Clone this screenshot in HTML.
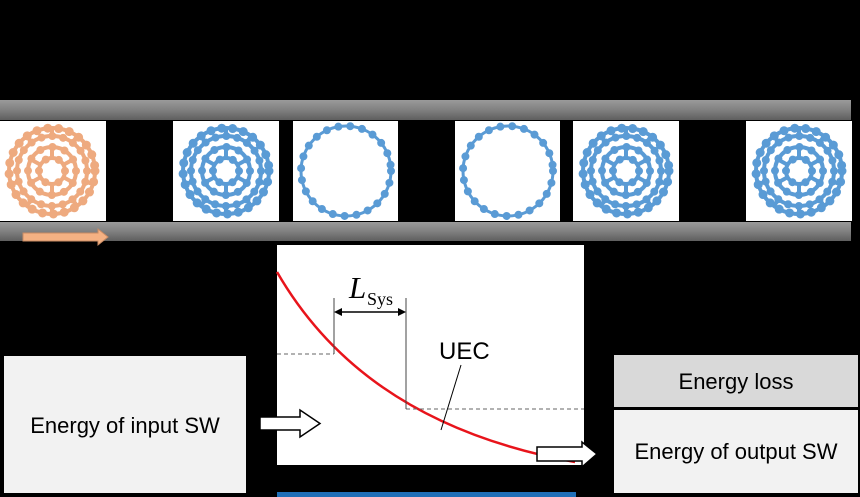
<!DOCTYPE html>
<html><head><meta charset="utf-8"><style>
body{margin:0;background:#000;}
svg{display:block}
</style></head><body>
<svg width="860" height="497" viewBox="0 0 860 497" xmlns="http://www.w3.org/2000/svg" font-family="Liberation Sans, sans-serif">
<defs>
<linearGradient id="bar" x1="0" y1="0" x2="0" y2="1">
<stop offset="0" stop-color="#9a9a9a"/><stop offset="0.5" stop-color="#808080"/><stop offset="1" stop-color="#5e5e5e"/></linearGradient>
<g id="ful">
<circle cx="0" cy="0" r="43" fill="none" stroke-width="4"/>
<circle cx="0" cy="0" r="43" fill="none" stroke-width="9" stroke-linecap="round" stroke-dasharray="0 11"/>
<circle cx="0" cy="0" r="35" fill="none" stroke-width="4"/>
<circle cx="0" cy="0" r="35" fill="none" stroke-width="8" stroke-linecap="round" stroke-dasharray="0 11"/>
<circle cx="0" cy="0" r="24" fill="none" stroke-width="4"/>
<circle cx="0" cy="0" r="24" fill="none" stroke-width="8" stroke-linecap="round" stroke-dasharray="0 12.6"/>
<circle cx="0" cy="0" r="13" fill="none" stroke-width="4"/>
<circle cx="0" cy="0" r="13" fill="none" stroke-width="8" stroke-linecap="round" stroke-dasharray="0 13.6"/>
<path d="M0,-13V-25M0,13V25M11,6L22,12M-11,6L-22,12M11,-6L22,-12M-11,-6L-22,-12M0,-36V-43M0,36V43M34,11L41,13M-34,11L-41,13M21,29L25,35M-21,29L-25,35M21,-29L25,-35M-21,-29L-25,-35" stroke-width="4"/>
</g>
<g id="ring">
<circle cx="0" cy="0" r="45" fill="none" stroke-width="3"/>
<circle cx="0" cy="0" r="45" fill="none" stroke-width="8" stroke-linecap="round" stroke-dasharray="0 12"/>
</g>
</defs>
<rect width="860" height="497" fill="#000"/>
<rect x="0" y="100" width="851" height="20" fill="url(#bar)"/>
<rect x="0" y="222" width="851" height="19" fill="url(#bar)"/>
<g fill="#fff">
<rect x="0" y="121" width="106" height="100"/>
<rect x="173" y="121" width="106" height="100"/>
<rect x="293" y="121" width="105" height="100"/>
<rect x="455" y="121" width="105" height="100"/>
<rect x="573" y="121" width="106" height="100"/>
<rect x="746" y="121" width="106" height="100"/>
</g>
<use href="#ful" x="52" y="171" stroke="#eeaa7f"/>
<use href="#ful" x="226" y="171" stroke="#5a9bd5"/>
<use href="#ring" x="346" y="171" stroke="#5a9bd5"/>
<use href="#ring" x="508" y="171" stroke="#5a9bd5"/>
<use href="#ful" x="626" y="171" stroke="#5a9bd5"/>
<use href="#ful" x="799" y="171" stroke="#5a9bd5"/>
<path d="M23,233H98V229L108,237L98,245V241H23Z" fill="#f4b183" stroke="#c98b63" stroke-width="1"/>
<rect x="277" y="245" width="307" height="220" fill="#fff"/>
<rect x="277" y="492" width="299" height="5" fill="#1f6fb8"/>
<path d="M277,272 C325,355 410,432 575,462" fill="none" stroke="#e8141b" stroke-width="2.5"/>
<path d="M277,354H334M406,409H584" stroke="#666" stroke-dasharray="4 3" stroke-width="1"/>
<path d="M334,298V354M406,298V409" stroke="#444" stroke-width="1"/>
<path d="M337,312H403" stroke="#000" stroke-width="1.5"/>
<path d="M334,312l8,-4v8zM406,312l-8,-4v8z" fill="#000"/>
<text x="349" y="298" font-family="Liberation Serif, serif" font-style="italic" font-size="31">L</text>
<text x="367" y="305" font-family="Liberation Serif, serif" font-size="18">Sys</text>
<text x="439" y="359" font-size="24">UEC</text>
<path d="M461,365L441,430" stroke="#000" stroke-width="1"/>
<rect x="4" y="356" width="242" height="137" fill="#f2f2f2"/>
<text x="125" y="433" font-size="22" text-anchor="middle">Energy of input SW</text>
<rect x="614" y="355" width="244" height="52" fill="#d9d9d9"/>
<rect x="614" y="410" width="244" height="83" fill="#f2f2f2"/>
<text x="736" y="389" font-size="22" text-anchor="middle">Energy loss</text>
<text x="736" y="459" font-size="22" text-anchor="middle">Energy of output SW</text>
<path d="M260,417H300V410L320,423.5L300,437V430H260Z" fill="#fff" stroke="#000" stroke-width="1.5"/>
<path d="M537,447H582V442L597,454L582,467V461H537Z" fill="#fff" stroke="#000" stroke-width="1.5"/>
</svg>
</body></html>
